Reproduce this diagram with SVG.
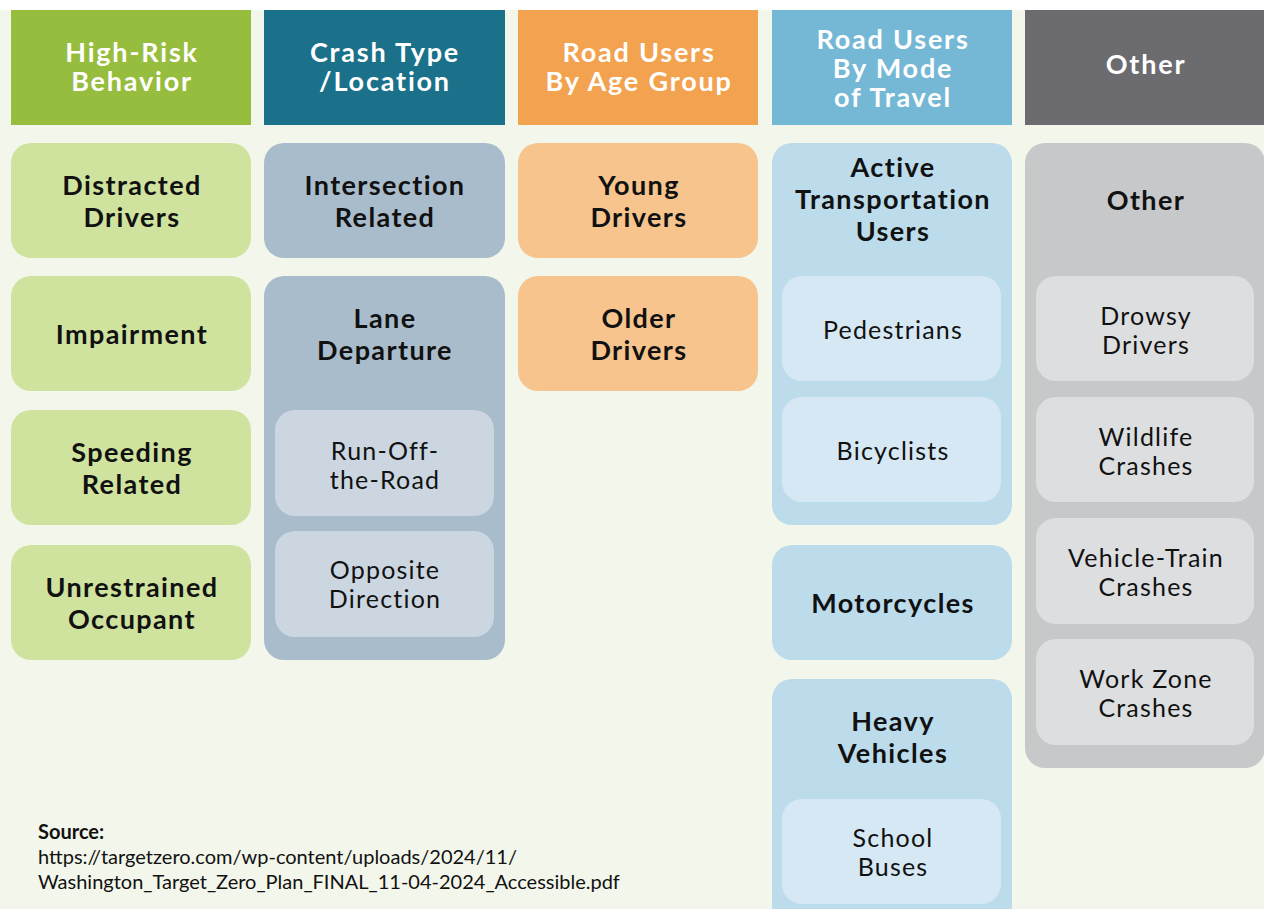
<svg xmlns="http://www.w3.org/2000/svg" width="1264" height="909" viewBox="0 0 1264 909">
  <style>
    .hd { font-family: Lato, "Noto Sans", sans-serif; font-weight: 700; font-size: 27px; letter-spacing: 1.8px; fill: #ffffff; text-anchor: middle; }
    .bt { font-family: Lato, "Noto Sans", sans-serif; font-weight: 700; font-size: 27px; letter-spacing: 1.4px; fill: #111111; text-anchor: middle; }
    .rt { font-family: Lato, "Noto Sans", sans-serif; font-weight: 400; font-size: 25px; letter-spacing: 1.2px; fill: #111111; text-anchor: middle; }
    .src { font-family: Lato, "Noto Sans", sans-serif; font-size: 20px; fill: #111111; }
  </style>

  <!-- page -->
  <rect x="0" y="0" width="1264" height="909" fill="#f3f7eb"/>
  <rect x="0" y="0" width="1264" height="10" fill="#ffffff"/>

  <!-- column headers -->
  <g id="hdr-behavior">
    <rect x="11" y="10" width="240" height="115" fill="#96bd3d"/>
    <text class="hd" x="132" y="62">High-Risk</text>
    <text class="hd" x="132" y="91">Behavior</text>
  </g>
  <g id="hdr-crash">
    <rect x="264" y="10" width="241" height="115" fill="#1a7189"/>
    <text class="hd" x="385" y="62">Crash Type</text>
    <text class="hd" x="385" y="91">/Location</text>
  </g>
  <g id="hdr-age">
    <rect x="518" y="10" width="240" height="115" fill="#f3a24f"/>
    <text class="hd" x="639" y="62">Road Users</text>
    <text class="hd" x="639" y="91">By Age Group</text>
  </g>
  <g id="hdr-mode">
    <rect x="772" y="10" width="240" height="115" fill="#74b8d6"/>
    <text class="hd" x="893" y="49">Road Users</text>
    <text class="hd" x="893" y="78">By Mode</text>
    <text class="hd" x="893" y="107">of Travel</text>
  </g>
  <g id="hdr-other">
    <rect x="1025" y="10" width="239" height="115" fill="#6c6c70"/>
    <text class="hd" x="1146" y="74">Other</text>
  </g>

  <!-- High-Risk Behavior -->
  <g id="distracted">
    <rect x="11" y="143" width="240" height="115" rx="20" fill="#cfe39f"/>
    <text class="bt" x="132" y="195">Distracted</text>
    <text class="bt" x="132" y="227">Drivers</text>
  </g>
  <g id="impairment">
    <rect x="11" y="276" width="240" height="115" rx="20" fill="#cfe39f"/>
    <text class="bt" x="132" y="344">Impairment</text>
  </g>
  <g id="speeding">
    <rect x="11" y="410" width="240" height="115" rx="20" fill="#cfe39f"/>
    <text class="bt" x="132" y="462">Speeding</text>
    <text class="bt" x="132" y="494">Related</text>
  </g>
  <g id="unrestrained">
    <rect x="11" y="545" width="240" height="115" rx="20" fill="#cfe39f"/>
    <text class="bt" x="132" y="597">Unrestrained</text>
    <text class="bt" x="132" y="629">Occupant</text>
  </g>

  <!-- Crash Type / Location -->
  <g id="intersection">
    <rect x="264" y="143" width="241" height="115" rx="20" fill="#a9bccb"/>
    <text class="bt" x="385" y="195">Intersection</text>
    <text class="bt" x="385" y="227">Related</text>
  </g>
  <g id="lane-departure">
    <rect x="264" y="276" width="241" height="384" rx="20" fill="#a9bccb"/>
    <text class="bt" x="385" y="328">Lane</text>
    <text class="bt" x="385" y="360">Departure</text>
    <g id="run-off-road">
      <rect x="275" y="410" width="219" height="106" rx="20" fill="#cbd6e0"/>
      <text class="rt" x="385" y="460">Run-Off-</text>
      <text class="rt" x="385" y="489">the-Road</text>
    </g>
    <g id="opposite-direction">
      <rect x="275" y="531" width="219" height="106" rx="20" fill="#cbd6e0"/>
      <text class="rt" x="385" y="579">Opposite</text>
      <text class="rt" x="385" y="608">Direction</text>
    </g>
  </g>

  <!-- Road Users by Age Group -->
  <g id="young">
    <rect x="518" y="143" width="240" height="115" rx="20" fill="#f7c48e"/>
    <text class="bt" x="639" y="195">Young</text>
    <text class="bt" x="639" y="227">Drivers</text>
  </g>
  <g id="older">
    <rect x="518" y="276" width="240" height="115" rx="20" fill="#f7c48e"/>
    <text class="bt" x="639" y="328">Older</text>
    <text class="bt" x="639" y="360">Drivers</text>
  </g>

  <!-- Road Users by Mode of Travel -->
  <g id="active-transport">
    <rect x="772" y="143" width="240" height="382" rx="20" fill="#bcdcec"/>
    <text class="bt" x="893" y="177">Active</text>
    <text class="bt" x="893" y="209">Transportation</text>
    <text class="bt" x="893" y="241">Users</text>
    <g id="pedestrians">
      <rect x="782" y="276" width="219" height="105" rx="20" fill="#d6e8f3"/>
      <text class="rt" x="893" y="339">Pedestrians</text>
    </g>
    <g id="bicyclists">
      <rect x="782" y="397" width="219" height="105" rx="20" fill="#d6e8f3"/>
      <text class="rt" x="893" y="460">Bicyclists</text>
    </g>
  </g>
  <g id="motorcycles">
    <rect x="772" y="545" width="240" height="115" rx="20" fill="#bcdcec"/>
    <text class="bt" x="893" y="613">Motorcycles</text>
  </g>
  <g id="heavy-vehicles">
    <rect x="772" y="679" width="240" height="260" rx="20" fill="#bcdcec"/>
    <text class="bt" x="893" y="731">Heavy</text>
    <text class="bt" x="893" y="763">Vehicles</text>
    <g id="school-buses">
      <rect x="782" y="799" width="219" height="105" rx="20" fill="#d6e8f3"/>
      <text class="rt" x="893" y="847">School</text>
      <text class="rt" x="893" y="876">Buses</text>
    </g>
  </g>

  <!-- Other -->
  <g id="other">
    <rect x="1025" y="143" width="240" height="625" rx="20" fill="#c7c8ca"/>
    <text class="bt" x="1146" y="210">Other</text>
    <g id="drowsy">
      <rect x="1036" y="276" width="218" height="105" rx="20" fill="#dddee0"/>
      <text class="rt" x="1146" y="325">Drowsy</text>
      <text class="rt" x="1146" y="354">Drivers</text>
    </g>
    <g id="wildlife">
      <rect x="1036" y="397" width="218" height="105" rx="20" fill="#dddee0"/>
      <text class="rt" x="1146" y="446">Wildlife</text>
      <text class="rt" x="1146" y="475">Crashes</text>
    </g>
    <g id="vehicle-train">
      <rect x="1036" y="518" width="218" height="106" rx="20" fill="#dddee0"/>
      <text class="rt" x="1146" y="567">Vehicle-Train</text>
      <text class="rt" x="1146" y="596">Crashes</text>
    </g>
    <g id="work-zone">
      <rect x="1036" y="639" width="218" height="106" rx="20" fill="#dddee0"/>
      <text class="rt" x="1146" y="688">Work Zone</text>
      <text class="rt" x="1146" y="717">Crashes</text>
    </g>
  </g>

  <!-- connectors: none drawn; the grouping is shown by nesting -->
  <g id="connectors"/>

  <!-- source note -->
  <g id="source">
    <text class="src" x="38" y="839" font-weight="700">Source:</text>
    <text class="src" x="38" y="864">https://targetzero.com/wp-content/uploads/2024/11/</text>
    <text class="src" x="38" y="889">Washington_Target_Zero_Plan_FINAL_11-04-2024_Accessible.pdf</text>
  </g>
</svg>
